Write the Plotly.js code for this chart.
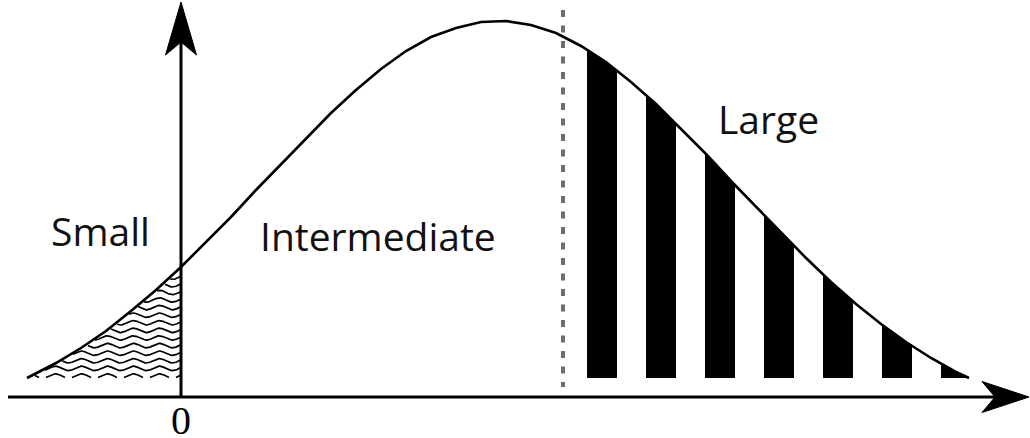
<!DOCTYPE html>
<html>
<head>
<meta charset="utf-8">
<script src="https://cdn.plot.ly/plotly-3.0.1.min.js"></script>
<style>
html,body{margin:0;padding:0;background:#fff;}
#chart{width:1030px;height:438px;}
</style>
</head>
<body>
<div id="chart"></div>
<script>
// ---- data ----
const curveX = [-1.54, -1.5, -1.25, -1.0, -0.75, -0.5, -0.25, 0, 0.25, 0.5, 0.75, 1.0, 1.25, 1.5, 1.75, 2.0, 2.25, 2.5, 2.75, 3.0, 3.25, 3.5, 3.75, 4.0, 4.25, 4.5, 4.75, 5.0, 5.25, 5.5, 5.75, 6.0, 6.25, 6.5, 6.75, 7.0, 7.25, 7.5, 7.75, 7.88];
const curveY = [0, 0.02, 0.15, 0.30, 0.47, 0.67, 0.88, 1.11, 1.36, 1.61, 1.88, 2.14, 2.40, 2.65, 2.88, 3.09, 3.27, 3.41, 3.50, 3.56, 3.57, 3.53, 3.45, 3.32, 3.16, 2.96, 2.74, 2.49, 2.24, 1.97, 1.71, 1.45, 1.20, 0.96, 0.74, 0.54, 0.36, 0.20, 0.06, 0];
const regionLabels = ['Small', 'Intermediate', 'Large'];
const tickLabels = ['0'];
const smallUpper = 0;        // right edge of the "Small" region
const cutoff = 3.82;         // dashed threshold line
const largeStart = 4.06;     // first stripe of the "Large" region

// ---- helpers ----
function curveAt(x) {
  if (x <= curveX[0] || x >= curveX[curveX.length - 1]) return 0;
  for (let i = 1; i < curveX.length; i++) {
    if (x <= curveX[i]) {
      const t = (x - curveX[i - 1]) / (curveX[i] - curveX[i - 1]);
      return curveY[i - 1] + t * (curveY[i] - curveY[i - 1]);
    }
  }
  return 0;
}

const traces = [];

// Striped fill of the "Large" region (vertical black bars clipped by the curve)
const stripeW = 0.30, stripeP = 0.59;
const xEnd = curveX[curveX.length - 1];
for (let a = largeStart; a < xEnd; a += stripeP) {
  const b = Math.min(a + stripeW, xEnd);
  const px = [a, a], py = [0, curveAt(a)];
  curveX.forEach((cx, i) => { if (cx > a && cx < b) { px.push(cx); py.push(curveY[i]); } });
  px.push(b, b); py.push(curveAt(b), 0);
  traces.push({x: px, y: py, mode: 'lines', fill: 'toself', fillcolor: '#000',
               line: {width: 0, color: '#000'}, hoverinfo: 'skip'});
}

// Wavy hatching of the "Small" region
const wx = [], wy = [];
const amp = 0.022, period = 0.26, gap = 0.076;
for (let lvl = 0.02; lvl < curveAt(smallUpper); lvl += gap) {
  let open = false;
  for (let x = curveX[0]; x <= smallUpper + 1e-9; x += 0.01) {
    const y = lvl + amp * Math.sin(2 * Math.PI * (x + 0.02) / period);
    const ok = y >= 0.005 && y <= curveAt(x) - 0.014;
    if (ok) { wx.push(x); wy.push(y); open = true; }
    else if (open) { wx.push(null); wy.push(null); open = false; }
  }
  wx.push(null); wy.push(null);
}
traces.push({x: wx, y: wy, mode: 'lines', line: {color: '#000', width: 1.7},
             connectgaps: false, hoverinfo: 'skip'});

// The density curve
traces.push({x: curveX, y: curveY, mode: 'lines', line: {color: '#000', width: 2.6},
             hoverinfo: 'skip'});

const xr = [-1.81, 8.49], yr = [-0.60, 3.78];
const axisY = -0.19;

const shapes = [
  // dashed threshold
  {type: 'line', xref: 'x', yref: 'y', x0: cutoff, x1: cutoff, y0: 3.68, y1: -0.09,
   line: {color: '#6e6e6e', width: 4, dash: '7px,8.5px'}},
  // x axis line
  {type: 'line', xref: 'x', yref: 'y', x0: -1.73, x1: 8.15, y0: axisY, y1: axisY,
   line: {color: '#000', width: 3}},
  // y axis line
  {type: 'line', xref: 'x', yref: 'y', x0: smallUpper, x1: smallUpper, y0: axisY, y1: 3.35,
   line: {color: '#000', width: 3}},
  // x arrow head
  {type: 'path', xref: 'x', yref: 'y',
   path: `M 8.48 ${axisY} L 8.01 ${axisY + 0.155} L 8.14 ${axisY} L 8.01 ${axisY - 0.155} Z`,
   fillcolor: '#000', line: {color: '#000', width: 1}},
  // y arrow head
  {type: 'path', xref: 'x', yref: 'y',
   path: `M ${smallUpper} 3.76 L ${smallUpper - 0.155} 3.23 L ${smallUpper} 3.36 L ${smallUpper + 0.155} 3.23 Z`,
   fillcolor: '#000', line: {color: '#000', width: 1}}
];

const labelFont = {family: '"Open Sans", "Noto Sans", sans-serif', size: 39, color: '#111'};
const annotations = [
  {x: -0.81, y: 1.48, text: regionLabels[0]},
  {x: 1.97, y: 1.43, text: regionLabels[1]},
  {x: 5.87, y: 2.60, text: regionLabels[2]}
].map(a => Object.assign(a, {xref: 'x', yref: 'y', showarrow: false, font: labelFont,
                              xanchor: 'center', yanchor: 'middle'}));
annotations.push({x: smallUpper, y: -0.415, xref: 'x', yref: 'y', text: tickLabels[0], showarrow: false,
                  font: {family: '"Liberation Serif", "DejaVu Serif", serif', size: 40, color: '#000'},
                  xanchor: 'center', yanchor: 'middle', height: 34, valign: 'middle'});

const layout = {
  width: 1030, height: 438,
  margin: {l: 0, r: 0, t: 0, b: 0},
  paper_bgcolor: '#fff', plot_bgcolor: '#fff',
  showlegend: false,
  xaxis: {range: xr, visible: false, fixedrange: true},
  yaxis: {range: yr, visible: false, fixedrange: true},
  shapes: shapes,
  annotations: annotations
};

Plotly.newPlot('chart', traces, layout, {staticPlot: true, displayModeBar: false});
</script>
</body>
</html>
